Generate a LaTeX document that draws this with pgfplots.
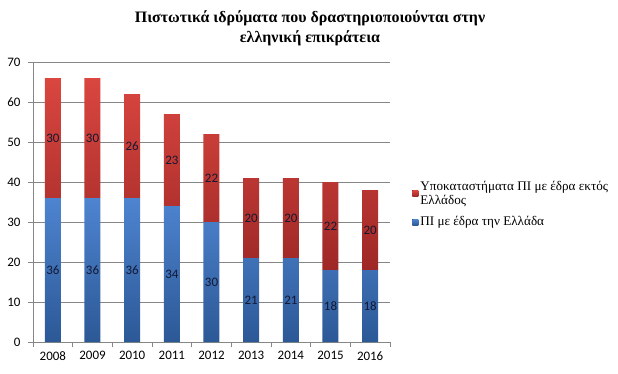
\documentclass[border=0pt]{standalone}
\usepackage{fontspec}
\setmainfont{Liberation Serif}
\newfontfamily\calibri{Carlito}
\usepackage{pgfplots}
\usepackage{pgfplotstable}
\pgfplotsset{compat=1.18}
\definecolor{bluetop}{RGB}{78,132,208}
\definecolor{bluebot}{RGB}{44,88,150}
\definecolor{redtop}{RGB}{218,70,64}
\definecolor{redbot}{RGB}{158,40,38}
\definecolor{gridgray}{RGB}{134,134,134}
\definecolor{labelc}{RGB}{20,24,50}
\pgfplotstableread{
x year ell ekt
0 2008 36 30
1 2009 36 30
2 2010 36 26
3 2011 34 23
4 2012 30 22
5 2013 21 20
6 2014 21 20
7 2015 18 22
8 2016 18 20
}\data
\begin{document}
\begin{tikzpicture}
\begin{axis}[
  scale only axis,
  width=357bp, height=280bp,
  ybar stacked, bar width=16bp,
  xmin=-0.5, xmax=8.5, ymin=0, ymax=70,
  xtick={0,...,8},
  xticklabels={2008,2009,2010,2011,2012,2013,2014,2015,2016},
  major x tick style={draw=none},
  minor xtick={-0.5,0.5,...,8.5},
  ytick={0,10,...,70},
  ymajorgrids, major grid style={gridgray, line width=0.6pt},
  axis x line*=bottom, axis y line*=left,
  axis line style={gridgray, line width=0.6pt, -},
  tick style={gridgray, line width=0.6pt},
  tick align=outside,
  major tick length=5bp, minor tick length=5bp,
  /pgf/number format/assume math mode=true,
  ticklabel style={font=\calibri\fontsize{13}{15}\selectfont, text=black},
  yticklabel style={xshift=-4bp},
  xticklabel style={yshift=-1bp},
  title={Πιστωτικά ιδρύματα που δραστηριοποιούνται στην\\ελληνική επικράτεια},
  title style={at={(rel axis cs:0.776,1.1)}, anchor=center, align=center,
    font=\bfseries\fontsize{16}{20}\selectfont},
  legend style={at={(rel axis cs:1.054,0.59)}, anchor=north west, draw=none,
    font=\fontsize{13.2}{14}\selectfont, cells={align=left, anchor=west}, row sep=7bp},
  reverse legend,
  legend image code/.code={\fill[#1] (0bp,-3bp) rectangle (6bp,3bp);},
  nodes near coords,
  point meta=explicit,
  every node near coord/.append style={font=\calibri\fontsize{13}{15}\selectfont, text=labelc, anchor=center},
  clip=false,
]
\addplot[draw=none, top color=bluetop, bottom color=bluebot]
  table[x=x, y=ell, meta=ell] {\data};
\addlegendentry{ΠΙ με έδρα την Ελλάδα}
\addplot[draw=none, top color=redtop, bottom color=redbot]
  table[x=x, y=ekt, meta=ekt] {\data};
\addlegendentry{Υποκαταστήματα ΠΙ με έδρα εκτός\\Ελλάδος}
\end{axis}
\useasboundingbox (-33bp,-32bp) rectangle (585bp,342bp);
\end{tikzpicture}
\end{document}
